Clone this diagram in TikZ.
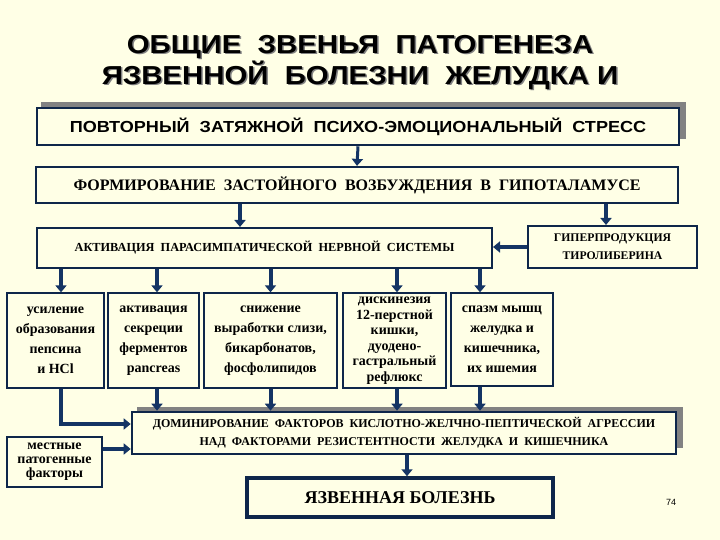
\documentclass[tikz,border=0pt]{standalone}
\usepackage{fontspec}
\setmainfont{Liberation Serif}
\newfontfamily\arialfont{Liberation Sans}
\newfontfamily\widearial[FakeStretch=1.13]{Liberation Sans}
\usetikzlibrary{arrows.meta}
\definecolor{paper}{RGB}{255,255,230}
\definecolor{navy}{RGB}{14,38,74}
\definecolor{arrowblue}{RGB}{20,52,100}
\definecolor{shadowgray}{RGB}{130,130,130}
\newcommand{\shadowline}[1]{\leavevmode\rlap{\hspace{1.5pt}\raisebox{-1.5pt}{\textcolor{shadowgray}{#1}}}#1}
\tikzset{
  box/.style={draw=navy, fill=paper, inner sep=0pt, align=center, font=\bfseries},
  rowbox/.style={box, line width=1.3pt, minimum height=95pt, font=\bfseries\fontsize{14}{20}\selectfont},
  arr/.style={draw=arrowblue, line width=4pt, -{Triangle[length=7pt,width=11pt]}},
  headline/.style={font=\widearial\bfseries\fontsize{26}{30}\selectfont, align=center},
}
\begin{document}
\begin{tikzpicture}[x=1pt,y=-1pt]
\useasboundingbox[fill=paper] (0,0) rectangle (720,540);

\node[headline] (head) at (360,63)
  {\shadowline{ОБЩИЕ\ \ ЗВЕНЬЯ\ \ ПАТОГЕНЕЗА}\\\shadowline{ЯЗВЕННОЙ\ \ БОЛЕЗНИ\ \ ЖЕЛУДКА И}};

\fill[shadowgray] (41,102) rectangle (686,139);
\node[box, line width=2.6pt, minimum width=642pt, minimum height=37pt,
  font=\widearial\bfseries\fontsize{16}{18}\selectfont] (stress) at (358,126.5)
  {ПОВТОРНЫЙ\ \ ЗАТЯЖНОЙ\ \ ПСИХО-ЭМОЦИОНАЛЬНЫЙ\ \ СТРЕСС};
\node[box, line width=2.2pt, minimum width=642pt, minimum height=36pt,
  font=\bfseries\fontsize{16}{18}\selectfont] (hypo) at (357,185)
  {ФОРМИРОВАНИЕ\ \ ЗАСТОЙНОГО\ \ ВОЗБУЖДЕНИЯ\ \ В\ \ ГИПОТАЛАМУСЕ};
\node[box, line width=2pt, minimum width=455pt, minimum height=40pt,
  font=\bfseries\fontsize{12.3}{14}\selectfont] (para) at (264.5,248)
  {АКТИВАЦИЯ\ \ ПАРАСИМПАТИЧЕСКОЙ\ \ НЕРВНОЙ\ \ СИСТЕМЫ};
\node[box, line width=2pt, minimum width=169pt, minimum height=42pt,
  font=\bfseries\fontsize{11.7}{18}\selectfont] (tyro) at (612.5,247)
  {ГИПЕРПРОДУКЦИЯ\\ТИРОЛИБЕРИНА};

\node[rowbox, minimum width=97pt] (pep) at (55.5,340.5)
  {усиление\\образования\\пепсина\\и HCl};
\node[rowbox, minimum width=91pt] (panc) at (153.5,340.5)
  {активация\\секреции\\ферментов\\pancreas};
\node[rowbox, minimum width=133pt] (mucus) at (270.5,340.5)
  {снижение\\выработки слизи,\\бикарбонатов,\\фосфолипидов};
\node[rowbox, minimum width=103pt, font=\bfseries\fontsize{14}{15.5}\selectfont] (dysk) at (394.5,340.5)
  {дискинезия\\12-перстной\\кишки,\\дуодено-\\гастральный\\рефлюкс};
\node[rowbox, minimum width=102pt, minimum height=93pt] (spasm) at (502,339.5)
  {спазм мышц\\желудка и\\кишечника,\\их ишемия};

\fill[shadowgray] (137,407) rectangle (683,448);
\node[box, line width=2.6pt, minimum width=544pt, minimum height=42pt,
  font=\bfseries\fontsize{12}{18}\selectfont] (dom) at (404,433)
  {ДОМИНИРОВАНИЕ\ \ ФАКТОРОВ\ \ КИСЛОТНО-ЖЕЛЧНО-ПЕПТИЧЕСКОЙ\ \ АГРЕССИИ\\
   НАД\ \ ФАКТОРАМИ\ \ РЕЗИСТЕНТНОСТИ\ \ ЖЕЛУДКА\ \ И\ \ КИШЕЧНИКА};
\node[box, line width=1.3pt, minimum width=95pt, minimum height=50pt,
  font=\bfseries\fontsize{14}{14}\selectfont] (local) at (54.5,462)
  {местные\\патогенные\\факторы};
\node[box, line width=3.5pt, minimum width=306pt, minimum height=39pt,
  font=\bfseries\fontsize{18}{20}\selectfont] (ulcer) at (400,497.5)
  {ЯЗВЕННАЯ БОЛЕЗНЬ};
\node[font=\arialfont\fontsize{9}{10}\selectfont] (page) at (671,502) {74};

\coordinate (toPara) at ([xshift=-24.5pt]para.north);
\coordinate (toTyro) at ([xshift=-6.5pt]tyro.north);
\coordinate (toPep) at ([xshift=5.5pt]pep.north);
\coordinate (toPanc) at ([xshift=3.5pt]panc.north);
\coordinate (toDysk) at ([xshift=2.5pt]dysk.north);
\coordinate (toSpasm) at ([xshift=-22pt]spasm.north);
\coordinate (domA) at ([yshift=9pt]dom.west);
\coordinate (domB) at ([yshift=-16pt]dom.west);

\draw[arr, line width=3pt] (stress.south) -- (hypo.north);
\draw[arr] (hypo.south -| toPara) -- (toPara);
\draw[arr] (hypo.south -| toTyro) -- (toTyro);
\draw[arr] (tyro.west) -- (para.east |- tyro.west);
\draw[arr] (para.south -| toPep) -- (toPep);
\draw[arr] (para.south -| toPanc) -- (toPanc);
\draw[arr] (para.south -| mucus.north) -- (mucus.north);
\draw[arr] (para.south -| toDysk) -- (toDysk);
\draw[arr] (para.south -| toSpasm) -- (toSpasm);
\draw[arr] (pep.south -| toPep) |- (domA);
\draw[arr] (panc.south -| toPanc) -- (dom.north -| toPanc);
\draw[arr] (mucus.south) -- (dom.north -| mucus.south);
\draw[arr] (dysk.south -| toDysk) -- (dom.north -| toDysk);
\draw[arr] (spasm.south -| toSpasm) -- (dom.north -| toSpasm);
\draw[arr] (local.east |- domB) -- (domB);
\draw[arr] ([xshift=3pt]dom.south) -- ([xshift=3pt]dom.south |- ulcer.north);
\end{tikzpicture}
\end{document}
